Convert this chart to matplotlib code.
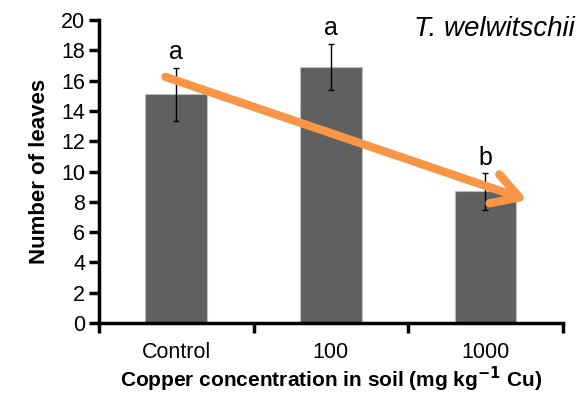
import matplotlib.pyplot as plt
import numpy as np

plt.rcParams['font.family'] = ['Liberation Sans', 'DejaVu Sans']

categories = ['Control', '100', '1000']
leaves_mean = [15.1, 16.9, 8.7]
leaves_err = [1.75, 1.55, 1.23]
letters = ['a', 'a', 'b']
letter_y = [17.9, 19.5, 10.9]

fig = plt.figure(figsize=(5.79, 3.93), dpi=100)
ax = fig.add_axes([0.171, 0.178, 0.801, 0.771])

x = np.arange(len(categories))
ax.bar(x, leaves_mean, width=0.4, color='#606060', edgecolor='#bdbdbd', linewidth=0.8, zorder=2)
ax.errorbar(x, leaves_mean, yerr=leaves_err, fmt='none', ecolor='black',
            elinewidth=1, capsize=2, capthick=1, zorder=3)

for xi, lab, ly in zip(x, letters, letter_y):
    ax.text(xi, ly, lab, ha='center', va='center', fontsize=18)

# trend arrow
ax.annotate('', xy=(2.27, 8.12), xytext=(-0.07, 16.25),
            arrowprops=dict(arrowstyle='->,head_length=1.9,head_width=1.1',
                            color='#F79646', lw=6, shrinkA=0, shrinkB=0),
            zorder=4)

fig.text(0.993, 0.925, 'T. welwitschii', ha='right', va='center',
         fontsize=20, style='italic')

ax.set_xlim(-0.5, 2.5)
ax.set_ylim(0, 20)
ax.set_yticks(range(0, 21, 2))
ax.set_xticks(x)
ax.set_xticklabels(categories)
ax.set_xticks([-0.5, 0.5, 1.5, 2.5], minor=True)
ax.tick_params(axis='x', which='major', length=0, pad=14, labelsize=15.5)
ax.tick_params(axis='x', which='minor', length=7, width=2.5, direction='out')
ax.tick_params(axis='y', length=7, width=2.5, direction='out', labelsize=15.5, pad=3)

for side in ['top', 'right']:
    ax.spines[side].set_visible(False)
for side in ['left', 'bottom']:
    ax.spines[side].set_linewidth(2.5)

ax.set_ylabel('Number of leaves', fontsize=16, fontweight='bold', labelpad=8)
ax.set_xlabel('Copper concentration in soil (mg kg$^{\\mathbf{-1}}$ Cu)', fontsize=15,
              fontweight='bold', labelpad=1)

fig.savefig('out.png', dpi=100)
